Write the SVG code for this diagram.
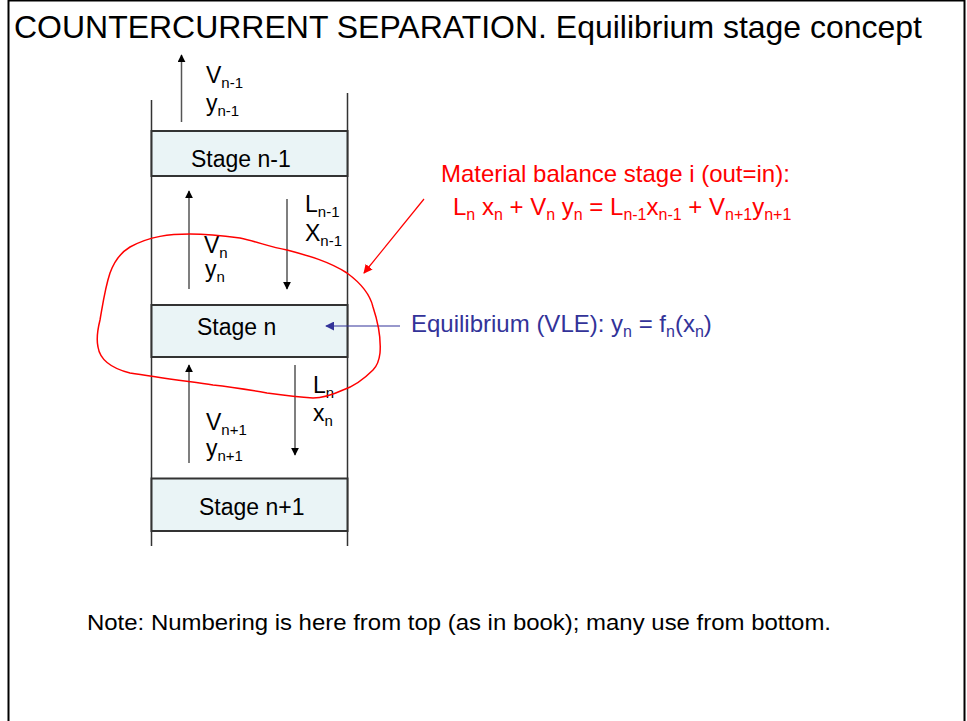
<svg xmlns="http://www.w3.org/2000/svg" width="967" height="721" viewBox="0 0 967 721">
<style>
text{font-family:"Liberation Sans",Arial,sans-serif;font-size:23px;fill:#000}
.sub{font-size:15px}
.red{fill:#ff0000;font-size:24px}
.blue{fill:#333399;font-size:24px}
.red .sub,.blue .sub{font-size:16px}
.stage{fill:#eaf4f6;stroke:#333;stroke-width:2}
.wall{stroke:#333;stroke-width:1.5;fill:none}
.flow{stroke:#555;stroke-width:1.5;fill:none}
</style>
<defs>
<marker id="ah" viewBox="0 0 10 10" refX="9" refY="5" markerWidth="8" markerHeight="8" markerUnits="userSpaceOnUse" orient="auto"><path d="M0,0 L10,5 L0,10 z" fill="#000"/></marker>
<marker id="ahr" viewBox="0 0 10 10" refX="9" refY="5" markerWidth="9" markerHeight="9" markerUnits="userSpaceOnUse" orient="auto"><path d="M0,0 L10,5 L0,10 z" fill="#ff0000"/></marker>
<marker id="ahb" viewBox="0 0 10 10" refX="9" refY="5" markerWidth="9" markerHeight="9" markerUnits="userSpaceOnUse" orient="auto"><path d="M0,0 L10,5 L0,10 z" fill="#333399"/></marker>
</defs>
<rect x="0" y="0" width="967" height="721" fill="#fff"/>
<rect x="8.5" y="0.5" width="956" height="730" fill="none" stroke="#000" stroke-width="2"/>
<text x="14" y="38" style="font-size:32px" textLength="908" lengthAdjust="spacingAndGlyphs">COUNTERCURRENT SEPARATION. Equilibrium stage concept</text>

<g id="column">
<line class="wall" x1="151.5" y1="100" x2="151.5" y2="546"/>
<line class="wall" x1="347.5" y1="93" x2="347.5" y2="546"/>
</g>
<g id="stage-n-1">
<rect class="stage" x="151.5" y="131" width="196" height="45"/>
<text x="191" y="167">Stage n-1</text>
</g>
<g id="stage-n">
<rect class="stage" x="151.5" y="305" width="196" height="52"/>
<text x="197" y="335">Stage n</text>
</g>
<g id="stage-n+1">
<rect class="stage" x="151.5" y="478.5" width="196" height="52.5"/>
<text x="199" y="515">Stage n+1</text>
</g>

<g id="connectors">
<line class="flow" x1="181.5" y1="122" x2="181.5" y2="55" marker-end="url(#ah)"/>
<line class="flow" x1="189" y1="289" x2="189" y2="191" marker-end="url(#ah)"/>
<line class="flow" x1="287" y1="199" x2="287" y2="289" marker-end="url(#ah)"/>
<line class="flow" x1="189" y1="463" x2="189" y2="365" marker-end="url(#ah)"/>
<line class="flow" x1="295" y1="365" x2="295" y2="455" marker-end="url(#ah)"/>
<line x1="400" y1="326" x2="326" y2="326" stroke="#333399" stroke-width="1.2" marker-end="url(#ahb)"/>
<line x1="424" y1="199" x2="364" y2="273" stroke="#ff0000" stroke-width="1.2" marker-end="url(#ahr)"/>
</g>

<g id="labels">
<text x="206" y="83">V<tspan class="sub" dy="5">n-1</tspan></text>
<text x="206" y="111">y<tspan class="sub" dy="5">n-1</tspan></text>
<text x="305" y="212">L<tspan class="sub" dy="5">n-1</tspan></text>
<text x="305" y="241">X<tspan class="sub" dy="5">n-1</tspan></text>
<text x="204" y="253">V<tspan class="sub" dy="5">n</tspan></text>
<text x="205" y="277">y<tspan class="sub" dy="5">n</tspan></text>
<text x="313" y="393">L<tspan class="sub" dy="5">n</tspan></text>
<text x="313" y="421">x<tspan class="sub" dy="5">n</tspan></text>
<text x="206" y="430">V<tspan class="sub" dy="5">n+1</tspan></text>
<text x="206" y="456">y<tspan class="sub" dy="5">n+1</tspan></text>
</g>

<g id="material-balance">
<path d="M130,247 C150,236 170,234 190,234 C210,234 225,236 240,238 C258,242 270,247 287,250 C310,256 330,262 347,273 C362,284 370,294 373,307 C378,322 381,340 380,353 C379,362 377,366 373,370 C365,378 355,386 343,390 C332,395 322,398 313,398 C298,397 282,395 267,393 C250,390 232,387 213,385 C185,381 155,377 130,373 C110,368 100,360 98,347 C96,338 98,328 100,320 C103,303 105,288 110,273 C114,262 120,253 130,247 Z" fill="none" stroke="#ff0000" stroke-width="1.5"/>
<text class="red" x="441" y="182">Material balance stage i (out=in):</text>
<text class="red" x="453" y="215">L<tspan class="sub" dy="5">n</tspan><tspan dy="-5"> x</tspan><tspan class="sub" dy="5">n</tspan><tspan dy="-5"> + V</tspan><tspan class="sub" dy="5">n</tspan><tspan dy="-5"> y</tspan><tspan class="sub" dy="5">n</tspan><tspan dy="-5"> = L</tspan><tspan class="sub" dy="5">n-1</tspan><tspan dy="-5">x</tspan><tspan class="sub" dy="5">n-1</tspan><tspan dy="-5"> + V</tspan><tspan class="sub" dy="5">n+1</tspan><tspan dy="-5">y</tspan><tspan class="sub" dy="5">n+1</tspan></text>
</g>

<g id="equilibrium">
<text class="blue" x="411" y="332">Equilibrium (VLE): y<tspan class="sub" dy="5">n</tspan><tspan dy="-5"> = f</tspan><tspan class="sub" dy="5">n</tspan><tspan dy="-5">(x</tspan><tspan class="sub" dy="5">n</tspan><tspan dy="-5">)</tspan></text>
</g>

<text x="87" y="630" style="font-size:22px" textLength="744" lengthAdjust="spacingAndGlyphs">Note: Numbering is here from top (as in book); many use from bottom.</text>
</svg>
